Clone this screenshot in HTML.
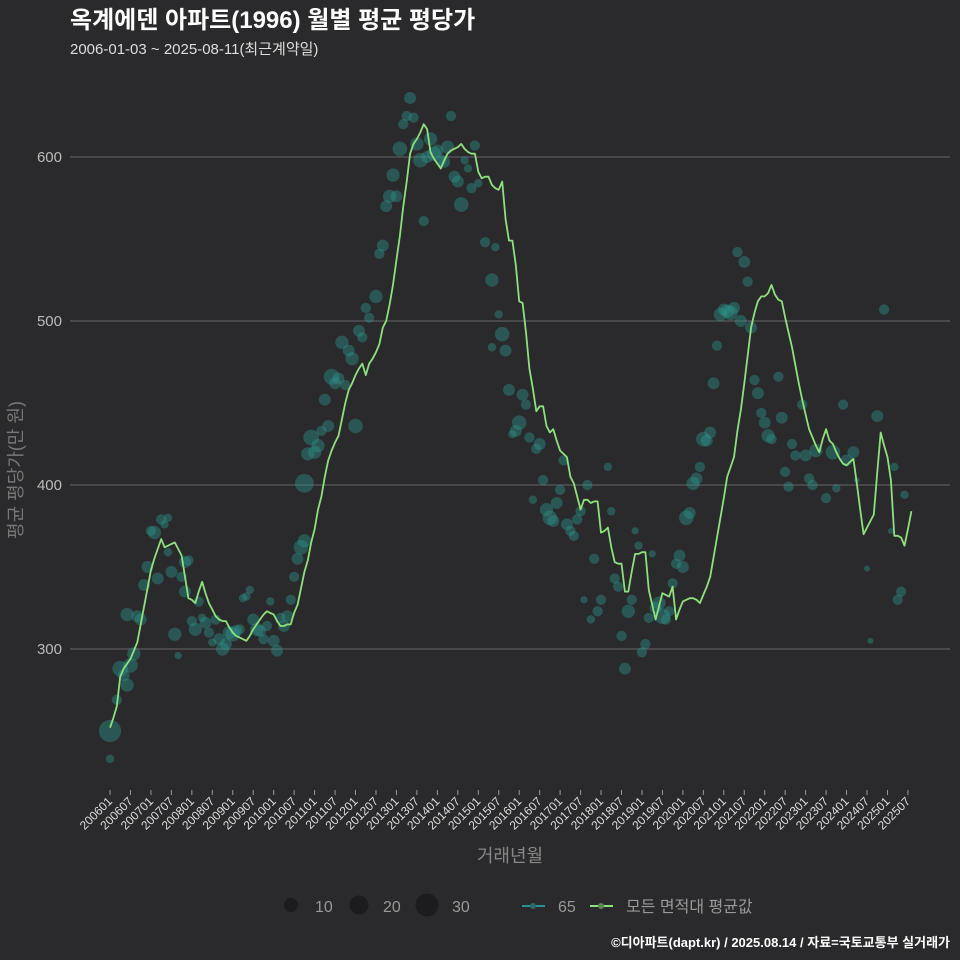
<!DOCTYPE html>
<html><head><meta charset="utf-8">
<style>
html,body{margin:0;padding:0;background:#2a2a2c;}
svg{display:block;font-family:"Liberation Sans","Noto Sans CJK KR",sans-serif;}
</style></head>
<body>
<svg id="chart" width="960" height="960" viewBox="0 0 960 960">
<rect width="960" height="960" fill="#2a2a2c"/>
<text x="70" y="28" font-size="24" font-weight="bold" fill="#ffffff">옥계에덴 아파트(1996) 월별 평균 평당가</text>
<text x="70" y="54" font-size="15" fill="#dddddd">2006-01-03 ~ 2025-08-11(최근계약일)</text>
<g id="grid"></g>
<g id="yticks"></g>
<g id="xticks"></g>
<g id="bubbles"></g>
<g id="line"></g>
<text transform="translate(22,470) rotate(-90)" text-anchor="middle" font-size="18" fill="#777777">평균 평당가(만 원)</text>
<text x="510" y="862" text-anchor="middle" font-size="18" fill="#888888">거래년월</text>
<g>
<circle cx="291" cy="905" r="7" fill="#1c1c1e"/>
<text x="315" y="912" font-size="16" fill="#999">10</text>
<circle cx="359" cy="905" r="9.5" fill="#1c1c1e"/>
<text x="383" y="912" font-size="16" fill="#999">20</text>
<circle cx="427" cy="905" r="11.5" fill="#1c1c1e"/>
<text x="452" y="912" font-size="16" fill="#999">30</text>
<line x1="522" y1="906" x2="545" y2="906" stroke="#2a8f96" stroke-width="2"/>
<circle cx="533" cy="906" r="3" fill="#2a6b66"/>
<text x="558" y="912" font-size="16" fill="#999">65</text>
<line x1="590" y1="906" x2="613" y2="906" stroke="#8ee07e" stroke-width="2"/>
<circle cx="601" cy="906" r="3" fill="#5a8a50"/>
<text x="626" y="912" font-size="16" fill="#999">모든 면적대 평균값</text>
</g>
<text x="950" y="947" text-anchor="end" font-size="13" font-weight="bold" fill="#ffffff">©디아파트(dapt.kr) / 2025.08.14 / 자료=국토교통부 실거래가</text>
</svg>
<script>
const yTicks = [300, 400, 500, 600];
const xTickLabels = ["200601","200607","200701","200707","200801","200807","200901","200907","201001","201007","201101","201107","201201","201207","201301","201307","201401","201407","201501","201507","201601","201607","201701","201707","201801","201807","201901","201907","202001","202007","202101","202107","202201","202207","202301","202307","202401","202407","202501","202507"];
const avgValues = [252,258,265,283,288,291,294,299,304,315,326,337,348,355,361,367,362,363,364,365,361,357,344,331,330,328,335,341,334,328,324,320,318,317,317,313,310,308,307,306,305,308,312,315,318,321,323,322,321,317,314,314,315,315,322,327,337,347,354,365,373,385,393,405,415,421,426,430,440,450,458,462,467,471,474,467,474,477,481,486,496,500,510,522,537,552,570,585,602,608,611,615,620,617,603,599,596,593,598,602,604,605,606,608,605,603,602,602,591,587,588,588,583,581,580,585,562,549,549,534,512,511,493,471,459,445,448,448,436,432,434,427,421,419,417,405,401,393,385,391,391,389,390,390,371,372,374,362,353,352,352,335,335,347,358,358,359,359,336,327,318,326,334,333,332,338,318,324,329,330,331,331,330,328,333,338,344,356,368,380,392,405,411,417,433,446,462,479,496,505,512,515,515,517,522,516,513,512,502,493,484,473,462,452,443,434,429,424,420,428,434,427,425,420,416,413,412,414,416,401,385,370,374,378,382,408,432,424,417,403,369,369,368,363,373,384];
const bubbleMonths = [0,0,2,3,4,5,6,7,5,8,9,10,11,12,13,14,15,16,17,17,18,19,20,21,22,22,23,24,25,26,27,28,29,30,31,32,33,34,35,36,37,38,39,40,41,42,43,44,45,46,47,48,49,50,51,52,53,54,55,56,57,57,58,59,60,61,62,64,63,65,66,67,68,69,70,71,72,73,74,75,76,78,79,80,81,82,83,84,85,86,87,88,89,90,91,92,93,94,95,96,97,98,99,100,101,102,103,104,105,106,107,108,110,112,112,113,114,115,116,117,118,119,120,121,122,123,124,125,126,127,128,129,130,131,132,133,134,135,136,137,138,139,140,141,142,143,144,146,147,148,149,150,151,152,153,154,155,156,157,158,159,160,161,162,163,164,165,166,167,168,169,170,171,172,173,174,175,176,177,178,179,180,181,182,183,184,185,186,187,188,189,190,191,192,193,194,196,197,198,199,200,201,203,204,205,206,207,210,212,213,215,216,218,219,222,223,225,227,229,230,231,232,233,234,235];
const bubbleValues = [250,233,269,288,284,278,290,297,321,320,318,339,350,372,371,343,379,376,380,359,347,309,296,344,353,335,354,317,312,329,319,316,310,304,318,306,300,303,310,309,311,312,331,332,336,318,312,311,306,314,329,305,299,319,314,320,330,344,355,362,366,401,419,429,420,424,433,436,452,466,462,465,487,461,482,477,436,494,490,508,502,515,541,546,570,576,589,576,605,620,625,636,624,608,598,561,600,611,602,604,598,597,606,625,588,585,571,598,593,581,607,584,548,484,525,545,504,492,482,458,431,433,438,455,449,429,391,422,425,403,385,380,378,389,397,415,376,372,369,379,384,330,400,318,355,323,330,411,384,343,338,308,288,323,330,372,363,298,303,319,358,325,328,320,318,323,340,352,357,350,380,383,401,404,411,428,427,432,462,485,504,507,506,505,508,542,500,536,524,496,464,456,444,438,430,428,466,441,408,399,425,418,449,418,404,400,421,392,420,398,449,415,420,403,349,305,442,507,372,411,330,335,394,369,388];
const bubbleCounts = [28,4,6,14,8,10,12,10,10,8,8,8,8,6,10,8,6,4,4,4,8,10,3,6,8,8,6,6,10,6,4,8,6,4,6,8,10,8,10,12,8,6,4,4,4,8,10,8,6,6,4,8,8,6,8,8,6,6,8,12,10,20,10,14,10,10,6,8,8,14,8,8,10,6,8,10,12,8,6,6,6,10,6,8,8,10,10,8,12,6,6,8,6,10,12,6,8,10,12,8,8,8,10,6,8,8,12,4,4,6,6,4,6,4,10,4,4,12,8,8,4,8,12,8,6,6,4,6,8,6,10,12,8,8,6,6,8,6,6,6,6,3,6,4,6,6,6,4,4,6,6,6,8,10,6,3,4,6,6,6,3,8,10,14,6,6,6,6,8,8,12,8,10,8,6,12,8,8,8,6,10,8,10,12,8,6,8,8,6,8,6,8,6,8,10,6,6,8,6,6,6,6,6,8,6,6,10,6,12,4,6,8,8,2,2,2,8,6,2,4,6,6,4];

const NS = "http://www.w3.org/2000/svg";
const PX0 = 70, PX1 = 950;
function xScale(m){ return 110 + m * 3.41; }
function yScale(v){ return 649 - (v - 300) * 1.64; }
function mk(tag, attrs, parent){ const e = document.createElementNS(NS, tag); for (const k in attrs) e.setAttribute(k, attrs[k]); parent.appendChild(e); return e; }

const grid = document.getElementById('grid');
const yt = document.getElementById('yticks');
yTicks.forEach(v => {
  const l = mk('line', {x1:PX0, x2:PX1, y1:yScale(v), y2:yScale(v), stroke:'#676767', 'stroke-width':1}, grid);
  
  
  const t = mk('text', {x:62, y:yScale(v)+5, 'text-anchor':'end', 'font-size':15, fill:'#bbbbbb'}, yt);
  t.textContent = v;
  
  
});

const xt = document.getElementById('xticks');
xTickLabels.forEach((lab, i) => {
  const x = xScale(i * 6);
  const tk = mk('line', {x1:x, x2:x, y1:790, y2:795, stroke:'#999', 'stroke-width':1}, xt);
  
  
  const t = mk('text', {x:x+3, y:802, 'text-anchor':'end', 'font-size':12, fill:'#dddddd', transform:'rotate(-45 ' + (x+3) + ' 802)'}, xt);
  t.textContent = lab;
  
  
});

const bg = document.getElementById('bubbles');
bubbleMonths.forEach((m, i) => {
  const c = mk('circle', {cx:xScale(m), cy:yScale(bubbleValues[i]), r:2.1*Math.sqrt(bubbleCounts[i]), fill:'rgba(44,150,140,0.42)'}, bg);
  
  
});

const lg = document.getElementById('line');
const pts = avgValues.map((v, m) => xScale(m).toFixed(1) + ',' + yScale(v).toFixed(1)).join(' ');
const pl = mk('polyline', {points:pts, fill:'none', stroke:'#8ee07e', 'stroke-width':1.8, 'stroke-linejoin':'round'}, lg);


</script>
</body></html>
